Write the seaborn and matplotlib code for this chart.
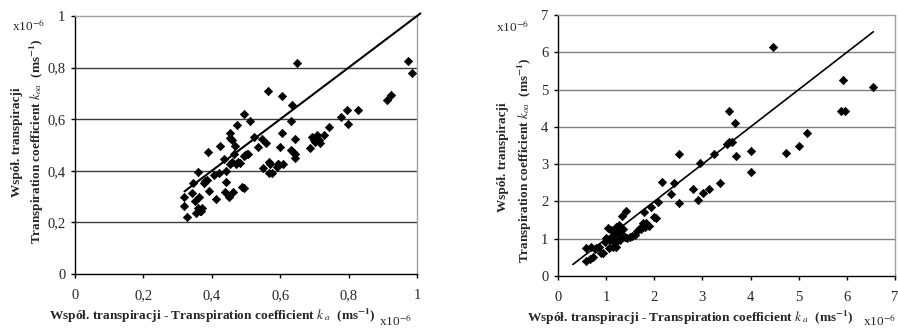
import matplotlib
matplotlib.use("Agg")
import matplotlib.pyplot as plt
import seaborn as sns
import pandas as pd

# lewy wykres (x10^-6)
ka_left = [0.318, 0.320, 0.327, 0.346, 0.341, 0.351, 0.353, 0.359, 0.363, 0.359,
           0.366, 0.371, 0.369, 0.376, 0.380, 0.385, 0.390, 0.393, 0.405, 0.412,
           0.421, 0.424, 0.437, 0.439, 0.441, 0.441, 0.449, 0.452, 0.454, 0.459,
           0.452, 0.459, 0.463, 0.465, 0.468, 0.471, 0.474, 0.478, 0.483, 0.488,
           0.493, 0.493, 0.493, 0.498, 0.502, 0.507, 0.512, 0.522, 0.535, 0.546,
           0.549, 0.559, 0.564, 0.566, 0.571, 0.566, 0.576, 0.590, 0.595, 0.593,
           0.600, 0.605, 0.605, 0.607, 0.632, 0.634, 0.632, 0.637, 0.644, 0.644,
           0.644, 0.649, 0.688, 0.693, 0.698, 0.702, 0.707, 0.712, 0.717, 0.727,
           0.744, 0.779, 0.795, 0.798, 0.827, 0.912, 0.925, 0.974, 0.985]
koa_left = [0.263, 0.298, 0.222, 0.351, 0.315, 0.284, 0.237, 0.396, 0.299, 0.254,
            0.244, 0.254, 0.244, 0.351, 0.360, 0.364, 0.471, 0.321, 0.383, 0.290,
            0.390, 0.497, 0.444, 0.319, 0.399, 0.355, 0.297, 0.545, 0.529, 0.521,
            0.426, 0.435, 0.319, 0.467, 0.497, 0.428, 0.577, 0.435, 0.431, 0.338,
            0.332, 0.619, 0.457, 0.463, 0.467, 0.467, 0.594, 0.532, 0.493, 0.525,
            0.409, 0.506, 0.710, 0.435, 0.425, 0.390, 0.392, 0.415, 0.428, 0.425,
            0.493, 0.548, 0.690, 0.425, 0.594, 0.654, 0.480, 0.474, 0.467, 0.448,
            0.525, 0.819, 0.489, 0.532, 0.521, 0.512, 0.538, 0.519, 0.506, 0.538,
            0.570, 0.609, 0.635, 0.581, 0.637, 0.674, 0.693, 0.825, 0.779]
line_left = [0.32, 1.01]

# prawy wykres
ka_right = [0.589, 0.589, 0.658, 0.693, 0.728, 0.762, 0.797, 0.852, 0.901, 0.936,
            0.970, 1.005, 1.040, 1.060, 1.074, 1.109, 1.130, 1.143, 1.178, 1.178,
            1.199, 1.213, 1.234, 1.247, 1.268, 1.282, 1.296, 1.317, 1.337, 1.351,
            1.386, 1.421, 1.434, 1.490, 1.545, 1.594, 1.649, 1.698, 1.732, 1.767,
            1.788, 1.802, 1.836, 1.892, 1.940, 1.996, 2.030, 2.079, 2.162, 2.342,
            2.405, 2.509, 2.516, 2.807, 2.911, 2.959, 3.015, 3.139, 3.243, 3.361,
            3.500, 3.555, 3.604, 3.548, 3.673, 3.694, 4.019, 4.019, 4.470, 4.726,
            5.003, 5.177, 5.877, 5.925, 5.960, 6.549]
koa_right = [0.402, 0.742, 0.447, 0.787, 0.519, 0.715, 0.742, 0.787, 0.608, 0.608,
             0.921, 1.010, 1.278, 0.742, 0.965, 1.234, 1.055, 0.787, 1.144, 0.876,
             1.323, 0.787, 0.965, 1.189, 1.368, 1.144, 0.965, 1.234, 1.609, 1.252,
             1.037, 1.752, 1.010, 1.037, 1.073, 1.100, 1.207, 1.278, 1.252, 1.430,
             1.725, 1.323, 1.430, 1.341, 1.842, 1.573, 1.547, 1.994, 2.530, 2.199,
             2.503, 3.272, 1.967, 2.324, 2.038, 3.022, 2.235, 2.324, 3.272, 2.485,
             3.540, 3.603, 3.603, 4.425, 4.094, 3.227, 3.352, 2.798, 6.150, 3.290,
             3.487, 3.844, 4.425, 5.257, 4.425, 5.078]
line_right = [0.31, 6.55]

ticks_left = [0, 0.2, 0.4, 0.6, 0.8, 1]
ticklabels_left = ["0", "0,2", "0,4", "0,6", "0,8", "1"]
ticks_right = [0, 1, 2, 3, 4, 5, 6, 7]
ticklabels_right = ["0", "1", "2", "3", "4", "5", "6", "7"]

xlabel = "Współ. transpiracji - Transpiration coefficient $k_{\\ a}$  (ms$^{\\mathbf{-1}}$)"
ylabel1 = "Współ. transpiracji"
ylabel2 = "Transpiration coefficient $k_{oa}$  (ms$^{\\mathbf{-1}}$)"

sns.set_style("white")
plt.rcParams["font.family"] = ["Liberation Serif", "DejaVu Serif"]
plt.rcParams["mathtext.fontset"] = "stix"

fig = plt.figure(figsize=(8.98, 3.29), dpi=100)
ax1 = fig.add_axes([75 / 898, 55 / 329, 342 / 898, 258 / 329])
ax2 = fig.add_axes([558 / 898, 53 / 329, 337 / 898, 261 / 329])


def style_axes(ax, ticks, labels, grid_color):
    ax.set_xlim(ticks[0], ticks[-1])
    ax.set_ylim(ticks[0], ticks[-1])
    ax.set_xticks(ticks)
    ax.set_xticklabels(labels, fontsize=10.5)
    ax.set_yticks(ticks)
    ax.set_yticklabels(labels, fontsize=10.5)
    for t in ticks[1:-1]:
        ax.axhline(t, color=grid_color, lw=1, zorder=0)
    ax.tick_params(axis="both", direction="out", length=3, width=1, color="black",
                   pad=4, left=True, bottom=True)
    ax.tick_params(axis="x", pad=8)
    ax.spines["left"].set_color("black")
    ax.spines["bottom"].set_color("black")
    ax.spines["top"].set_color("#a0a0a0")
    ax.spines["right"].set_color("#a0a0a0")
    for s in ax.spines.values():
        s.set_linewidth(1)
    ax.set_xlabel("")
    ax.set_ylabel("")


df_left = pd.DataFrame({"ka": ka_left, "koa": koa_left})
df_right = pd.DataFrame({"ka": ka_right, "koa": koa_right})

sns.scatterplot(data=df_left, x="ka", y="koa", ax=ax1, marker="D", s=18,
                color="black", edgecolor="black", linewidth=0.5, zorder=3)
sns.lineplot(x=line_left, y=line_left, ax=ax1, color="black", lw=1.5, clip_on=False, zorder=4)
style_axes(ax1, ticks_left, ticklabels_left, "#3a3a3a")

sns.scatterplot(data=df_right, x="ka", y="koa", ax=ax2, marker="D", s=18,
                color="black", edgecolor="black", linewidth=0.5, zorder=3)
sns.lineplot(x=line_right, y=line_right, ax=ax2, color="black", lw=1.2, zorder=4)
style_axes(ax2, ticks_right, ticklabels_right, "#808080")

# opisy osi X
fig.text(212 / 898, 1 - 316 / 329, xlabel, ha="center", va="center",
         fontsize=9.6, fontweight="bold")
fig.text(690 / 898, 1 - 318 / 329, xlabel, ha="center", va="center",
         fontsize=9.6, fontweight="bold")

# opisy osi Y (dwie linie)
fig.text(17 / 898, 1 - 142 / 329, ylabel1, rotation=90, ha="center", va="center",
         fontsize=9.5, fontweight="bold")
fig.text(37 / 898, 1 - 141 / 329, ylabel2, rotation=90, ha="center", va="center",
         fontsize=9.5, fontweight="bold")
fig.text(503 / 898, 1 - 157 / 329, ylabel1, rotation=90, ha="center", va="center",
         fontsize=9.5, fontweight="bold")
fig.text(525 / 898, 1 - 160 / 329, ylabel2, rotation=90, ha="center", va="center",
         fontsize=9.5, fontweight="bold")

# mnożniki
for x, y in [(12, 26), (496, 27), (379, 321), (863, 321)]:
    fig.text(x / 898, 1 - y / 329, "x10$^{-6}$", ha="left", va="center", fontsize=9.5)

fig.savefig("out.png", dpi=100)
